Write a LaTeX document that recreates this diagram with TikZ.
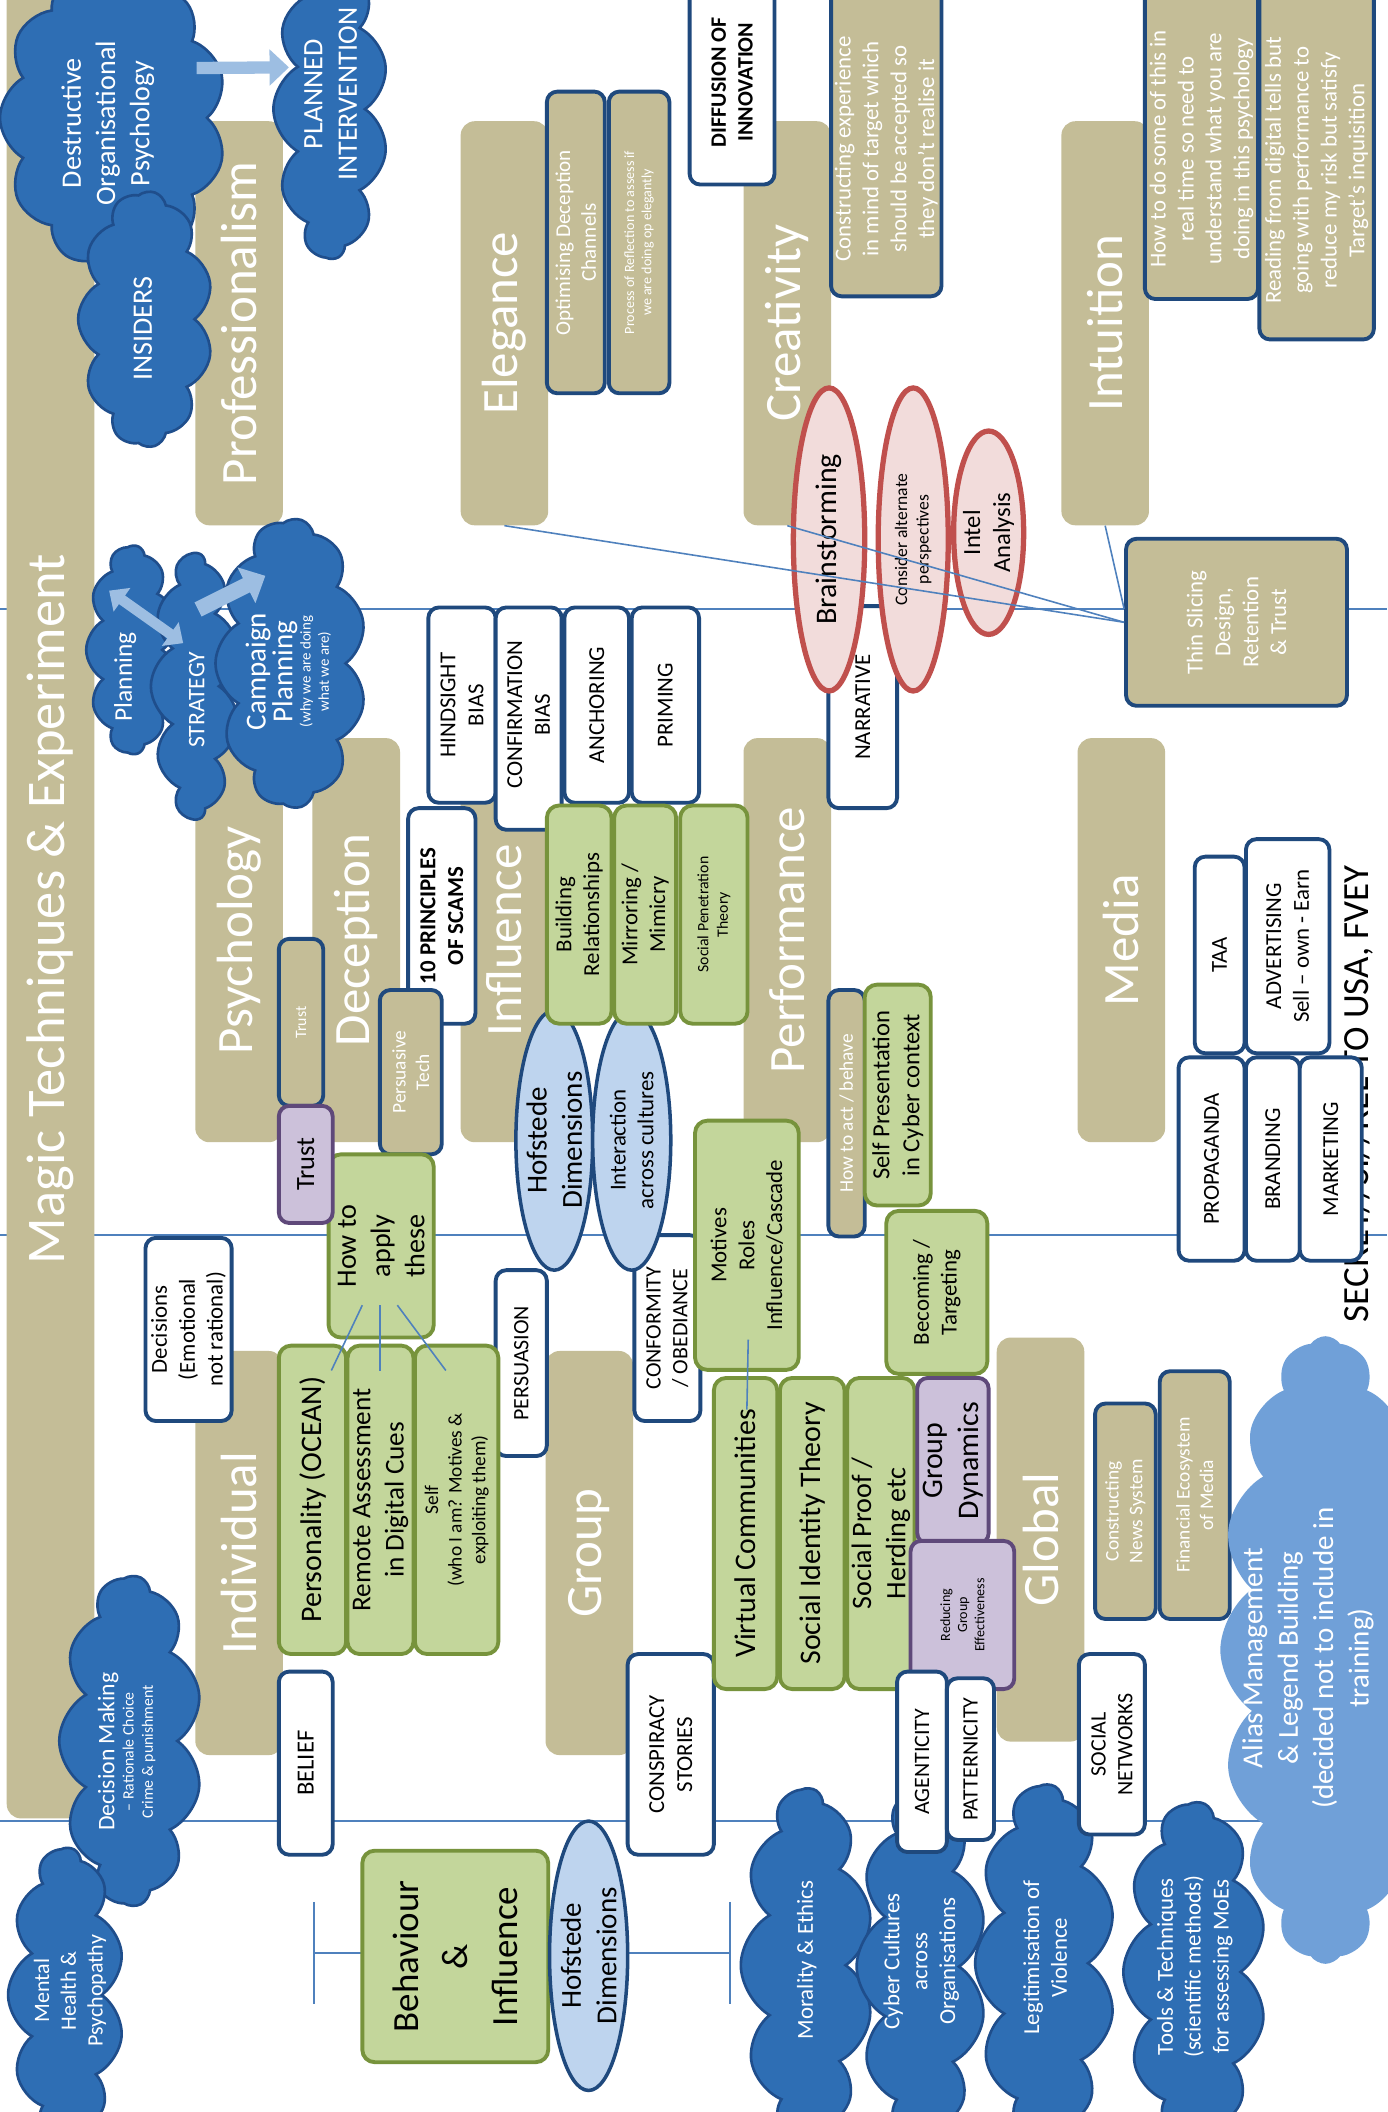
\documentclass[tikz,border=0pt]{standalone}
\usepackage{fontspec}
\setmainfont{Carlito}
\usetikzlibrary{shapes.geometric,shapes.symbols,arrows.meta,calc}
\newdimen\U \U=0.02693cm
\newcommand\fz[1]{\fontsize{#1}{\fpeval{1.22*#1}}\selectfont}
\newcommand\Bx[9]{%
  \node[#1, rotate=90, inner sep=0pt, minimum width={((#6)-(#4))*\U}, minimum height={((#5)-(#3))*\U}] (#2) at ({((#3)+(#5))/2},{((#4)+(#6))/2}) {};
  \node[#7, rotate=90, inner sep=1pt, align=center] (#2-t) at ($(#2.center)+(#8)$) {#9};}
\definecolor{khaki}{RGB}{196,189,151}
\definecolor{navy}{RGB}{31,73,125}
\definecolor{cloudb}{RGB}{46,110,180}
\definecolor{cloudd}{RGB}{31,78,140}
\definecolor{grfill}{RGB}{195,214,155}
\definecolor{grline}{RGB}{119,147,60}
\definecolor{pufill}{RGB}{204,193,218}
\definecolor{puline}{RGB}{95,73,122}
\definecolor{lbfill}{RGB}{190,212,238}
\definecolor{pkfill}{RGB}{242,220,219}
\definecolor{pkline}{RGB}{192,80,77}
\definecolor{aliasb}{RGB}{112,160,216}
\definecolor{arrowb}{RGB}{157,190,226}
\definecolor{connb}{RGB}{79,129,189}
\begin{document}
\begin{tikzpicture}[x=0.02693cm, y=-0.02693cm,
  tanbig/.style={fill=khaki, draw=none, rounded corners=8pt},
  tanb/.style={fill=khaki, draw=navy, line width=2.2pt, rounded corners=6pt},
  wbox/.style={fill=white, draw=navy, line width=2.2pt, rounded corners=6pt},
  gbox/.style={fill=grfill, draw=grline, line width=2.2pt, rounded corners=7pt},
  pbox/.style={fill=pufill, draw=puline, line width=2.2pt, rounded corners=6pt},
  lbell/.style={ellipse, fill=lbfill, draw=navy, line width=2pt},
  pkell/.style={ellipse, fill=pkfill, draw=pkline, line width=3pt},
  dcloud/.style={cloud, cloud puffs=11, cloud puff arc=120, cloud ignores aspect, fill=cloudb, draw=cloudd, line width=1.5pt},
  acloud/.style={cloud, cloud puffs=16, cloud puff arc=110, cloud ignores aspect, fill=aliasb, draw=none},
  wt/.style={text=white},
  bt/.style={text=black},
  conn/.style={draw=connb, line width=0.9pt},
  hline/.style={draw=connb, line width=1.1pt},
  fatarr/.style={draw=arrowb, line width=7pt, -{Triangle[length=11pt,width=20pt]}},
  smarr/.style={draw=arrowb},
]
\fill[white] (0,0) rectangle (1030,1568);
\useasboundingbox (0,0) rectangle (1030,1568);

% horizontal guide lines
\coordinate (hA1) at (0,452); \coordinate (hA2) at (1030,452);
\coordinate (hB1) at (0,917); \coordinate (hB2) at (1030,917);
\coordinate (hC1) at (0,1352); \coordinate (hC2) at (1030,1352);
\draw[hline] (hA1) -- (hA2);
\draw[hline] (hB1) -- (hB2);
\draw[hline] (hC1) -- (hC2);
% legend bracket
\coordinate (lg1) at (233,1450); \coordinate (lg2) at (542,1450);
\coordinate (lg1a) at (233,1412); \coordinate (lg1b) at (233,1488);
\coordinate (lg2a) at (542,1412); \coordinate (lg2b) at (542,1488);
\draw[hline] (lg1) -- (lg2);
\draw[hline] (lg1a) -- (lg1b);
\draw[hline] (lg2a) -- (lg2b);

% classification text (behind boxes)
\node[rotate=90, font=\fz{21}, text=black, inner sep=0pt] (secret) at (1008,812) {SECRET//SI//REL TO USA, FVEY};

% tan category boxes
\Bx{tanbig}{magic}{5}{-12}{70}{1350}{wt,font=\fz{31}}{0,6}{Magic Techniques \& Experiment}
\Bx{tanbig}{prof}{145}{90}{210}{390}{wt,font=\fz{29}}{0,0}{Professionalism}
\Bx{tanbig}{eleg}{342}{90}{407}{390}{wt,font=\fz{29}}{0,0}{Elegance}
\Bx{tanbig}{creat}{552}{90}{617}{390}{wt,font=\fz{29}}{0,0}{Creativity}
\Bx{tanbig}{intu}{788}{90}{853}{390}{wt,font=\fz{29}}{0,0}{Intuition}
\Bx{tanbig}{psych}{145}{548}{210}{848}{wt,font=\fz{29}}{0,0}{Psychology}
\Bx{tanbig}{decep}{232}{548}{297}{848}{wt,font=\fz{29}}{0,0}{Deception}
\Bx{tanbig}{influ}{342}{548}{407}{848}{wt,font=\fz{29}}{0,0}{Influence}
\Bx{tanbig}{perf}{552}{548}{617}{848}{wt,font=\fz{29}}{0,0}{Performance}
\Bx{tanbig}{media}{800}{548}{865}{848}{wt,font=\fz{29}}{0,0}{Media}
\Bx{tanbig}{indiv}{145}{1003}{210}{1303}{wt,font=\fz{29}}{0,0}{Individual}
\Bx{tanbig}{group}{405}{1003}{470}{1303}{wt,font=\fz{29}}{0,0}{Group}
\Bx{tanbig}{global}{740}{993}{805}{1293}{wt,font=\fz{29}}{0,0}{Global}

% top-left clouds
\Bx{dcloud}{destr}{0}{-25}{168}{200}{wt,font=\fz{16}}{-4,4}{Destructive\\Organisational\\Psychology}
\Bx{dcloud}{insiders}{58}{142}{158}{332}{wt,font=\fz{16}}{-2,7}{INSIDERS}
\Bx{dcloud}{planned}{203}{-30}{288}{192}{wt,font=\fz{16}}{0,-11}{PLANNED\\INTERVENTION}
\draw[fatarr] ($(destr.center)+(62,-37)$) -- ($(planned.center)+(-31,-31)$);

% planning clouds
\Bx{dcloud}{planning}{64}{405}{132}{560}{wt,font=\fz{14.5}}{-5,20}{Planning}
\Bx{dcloud}{strategy}{112}{411}{178}{608}{wt,font=\fz{13.5}}{1,10}{STRATEGY}
\Bx{dcloud}{campaign}{160}{385}{272}{600}{wt,font=\fz{8.5}}{-2,6}{{\fz{16.5}Campaign}\\{\fz{16.5}Planning}\\(why we are doing\\what we are)}
\draw[smarr, line width=6pt, {Triangle[length=9pt,width=16pt]}-{Triangle[length=9pt,width=16pt]}] ($(planning.center)+(-17,-44)$) -- ($(strategy.center)+(-9,-32)$);
\draw[smarr, line width=9pt, -{Triangle[length=12pt,width=22pt]}] ($(strategy.center)+(2,-57)$) -- ($(campaign.center)+(-19,-65)$);

% decision / mental clouds
\Bx{dcloud}{decmak}{44}{1170}{150}{1415}{wt,font=\fz{9}}{-3,8}{{\fz{13.5}Decision Making}\\– Rationale Choice\\Crime \& punishment}
\Bx{dcloud}{mental}{6}{1372}{92}{1590}{wt,font=\fz{12.5}}{3,-3}{Mental\\Health \&\\Psychopathy}

% white boxes
\Bx{wbox}{diffusion}{512}{-15}{575}{137}{bt,font=\bfseries\fz{12.5}}{0,0}{DIFFUSION OF\\INNOVATION}
\Bx{wbox}{hind}{318}{451}{368}{596}{bt,font=\fz{13}}{0,0}{HINDSIGHT\\BIAS}
\Bx{wbox}{confirm}{368}{451}{417}{616}{bt,font=\fz{13}}{0,-3}{CONFIRMATION\\BIAS}
\Bx{wbox}{anchor}{419}{451}{467}{596}{bt,font=\fz{13}}{0,0}{ANCHORING}
\Bx{wbox}{priming}{469}{451}{519}{596}{bt,font=\fz{13}}{0,0}{PRIMING}
\Bx{wbox}{narrative}{615}{450}{666}{600}{bt,font=\fz{13}}{0,0}{NARRATIVE}
\Bx{wbox}{scams}{303}{600}{353}{760}{bt,font=\bfseries\fz{13}}{0,0}{10 PRINCIPLES\\OF SCAMS}
\Bx{wbox}{decisions}{108}{919}{172}{1055}{bt,font=\fz{13}}{0,0}{Decisions\\(Emotional\\not rational)}
\Bx{wbox}{belief}{207}{1241}{247}{1377}{bt,font=\fz{14}}{0,0}{BELIEF}
\Bx{wbox}{persuasion}{368}{943}{406}{1081}{bt,font=\fz{12.5}}{0,0}{PERSUASION}
\Bx{wbox}{conformity}{471}{917}{520}{1055}{bt,font=\fz{12.5}}{0,0}{CONFORMITY\\/ OBEDIANCE}
\Bx{wbox}{conspiracy}{466}{1228}{530}{1377}{bt,font=\fz{13}}{0,0}{CONSPIRACY\\STORIES}
\Bx{wbox}{taa}{887}{636}{924}{782}{bt,font=\fz{13}}{0,0}{TAA}
\Bx{wbox}{advert}{925}{623}{987}{782}{bt,font=\fz{13}}{0,0}{ADVERTISING\\Sell – own - Earn}
\Bx{wbox}{propa}{875}{785}{924}{936}{bt,font=\fz{13}}{0,0}{PROPAGANDA}
\Bx{wbox}{brand}{925}{785}{965}{936}{bt,font=\fz{13}}{0,0}{BRANDING}
\Bx{wbox}{market}{965}{785}{1011}{936}{bt,font=\fz{13}}{0,0}{MARKETING}

% tan boxes with border
\Bx{tanb}{optim}{406}{68}{449}{292}{wt,font=\fz{12}}{0,0}{Optimising Deception\\Channels}
\Bx{tanb}{reflect}{452}{68}{497}{292}{wt,font=\fz{8}}{0,0}{Process of Reflection to assess if\\we are doing op elegantly}
\Bx{tanb}{construct}{617}{-15}{699}{220}{wt,font=\fz{13}}{0,8}{Constructing experience\\in mind of target which\\should be accepted so\\they don't realise it}
\Bx{tanb}{howdo}{850}{-15}{934}{222}{wt,font=\fz{13}}{0,7}{How to do some of this in\\real time so need to\\understand what you are\\doing in this psychology}
\Bx{tanb}{reading}{935}{-15}{1020}{252}{wt,font=\fz{13}}{0,8}{Reading from digital tells but\\going with performance to\\reduce my risk but satisfy\\Target's inquisition}
\Bx{tanb}{thin}{836}{400}{1000}{524}{wt,font=\fz{13}}{0,0}{Thin Slicing\\Design,\\Retention\\\& Trust}
\Bx{tanb}{trusttan}{207}{697}{240}{821}{wt,font=\fz{9}}{0,0}{Trust}
\Bx{tanb}{persuasive}{282}{735}{328}{857}{wt,font=\fz{11}}{0,0}{Persuasive\\Tech}
\Bx{tanb}{howact}{615}{735}{642}{918}{wt,font=\fz{11}}{0,0}{How to act / behave}
\Bx{tanb}{news}{813}{1042}{858}{1202}{wt,font=\fz{11}}{0,0}{Constructing\\News System}
\Bx{tanb}{financial}{861}{1018}{913}{1202}{wt,font=\fz{11}}{0,0}{Financial Ecosystem\\of Media}

% light blue ellipses
\Bx{lbell}{hof1}{383}{750}{440}{943}{bt,font=\fz{16.5}}{0,0}{Hofstede\\Dimensions}
\Bx{lbell}{inter}{440}{750}{498}{943}{bt,font=\fz{13}}{0,0}{Interaction\\across cultures}

% green boxes
\Bx{gbox}{howto}{244}{857}{322}{993}{bt,font=\fz{16}}{0,0}{How to\\apply\\these}
\Bx{gbox}{person}{207}{999}{257}{1228}{bt,font=\fz{17}}{0,0}{Personality (OCEAN)}
\Bx{gbox}{remote}{258}{999}{307}{1228}{bt,font=\fz{15.5}}{0,0}{Remote Assessment\\in Digital Cues}
\Bx{gbox}{self}{308}{999}{370}{1228}{bt,font=\fz{11}}{0,0}{Self\\(who I am? Motives \&\\exploiting them)}
\Bx{gbox}{build}{406}{598}{454}{760}{bt,font=\fz{13}}{0,0}{Building\\Relationships}
\Bx{gbox}{mirror}{456}{598}{502}{760}{bt,font=\fz{13}}{0,0}{Mirroring /\\Mimicry}
\Bx{gbox}{socpen}{505}{598}{555}{760}{bt,font=\fz{9}}{0,0}{Social Penetration\\Theory}
\Bx{gbox}{selfpres}{642}{731}{691}{895}{bt,font=\fz{14}}{0,0}{Self Presentation\\in Cyber context}
\Bx{gbox}{motives}{516}{832}{593}{1017}{bt,font=\fz{13}}{0,0}{Motives\\Roles\\Influence/Cascade}
\Bx{gbox}{becoming}{658}{899}{733}{1020}{bt,font=\fz{13}}{0,0}{Becoming /\\Targeting}
\Bx{gbox}{virtual}{530}{1023}{577}{1254}{bt,font=\fz{17}}{0,0}{Virtual Communities}
\Bx{gbox}{socid}{579}{1023}{627}{1254}{bt,font=\fz{17}}{0,0}{Social Identity Theory}
\Bx{gbox}{socproof}{629}{1023}{679}{1254}{bt,font=\fz{16}}{0,0}{Social Proof /\\Herding etc}

% purple boxes
\Bx{pbox}{trustp}{207}{821}{247}{908}{bt,font=\fz{15}}{0,0}{Trust}
\Bx{pbox}{gdyn}{681}{1023}{734}{1146}{bt,font=\fz{17}}{0,0}{Group\\Dynamics}
\Bx{pbox}{reduce}{676}{1144}{753}{1254}{bt,font=\fz{8}}{0,0}{Reducing\\Group\\Effectiveness}

% behaviour legend
\Bx{gbox}{behav}{269}{1374}{407}{1531}{bt,font=\fontsize{21}{28}\selectfont}{0,0}{Behaviour\\\&\\Influence}
\Bx{lbell}{hof2}{408}{1352}{466}{1552}{bt,font=\fz{16.5}}{0,0}{Hofstede\\Dimensions}

% pink ellipses
\Bx{pkell}{brain}{589}{288}{642}{513}{bt,font=\fz{17}}{0,0}{Brainstorming}
\Bx{pkell}{consider}{652}{288}{704}{513}{bt,font=\fz{10}}{0,0}{Consider alternate\\perspectives}
\Bx{pkell}{intel}{708}{320}{760}{471}{bt,font=\fz{14}}{0,0}{Intel\\Analysis}

% bottom clouds
\Bx{dcloud}{moral}{550}{1328}{648}{1590}{wt,font=\fz{13}}{0,-4}{Morality \& Ethics}
\Bx{dcloud}{cyber}{636}{1330}{732}{1590}{wt,font=\fz{13}}{0,-4}{Cyber Cultures\\across\\Organisations}
\Bx{wbox}{agent}{666}{1241}{703}{1375}{bt,font=\fz{12.5}}{0,0}{AGENTICITY}
\Bx{wbox}{pattern}{703}{1246}{738}{1366}{bt,font=\fz{12.5}}{0,0}{PATTERNICITY}
\Bx{dcloud}{legit}{724}{1325}{828}{1590}{wt,font=\fz{13}}{0,-4}{Legitimisation of\\Violence}
\Bx{dcloud}{tools}{834}{1338}{940}{1590}{wt,font=\fz{13}}{0,-4}{Tools \& Techniques\\(scientific methods)\\for assessing MoEs}
\Bx{wbox}{social}{801}{1228}{850}{1362}{bt,font=\fz{12.5}}{0,0}{SOCIAL\\NETWORKS}
\Bx{acloud}{alias}{906}{992}{1062}{1458}{wt,font=\fz{16.5}}{-13,6}{Alias Management\\\& Legend Building\\(decided not to include in\\training)}

% connectors
\draw[conn] (eleg.west) -- (thin.north);
\draw[conn] (creat.west) -- (thin.north);
\draw[conn] (intu.west) -- ($(thin.north)+(0,-10)$);
\draw[conn] ($(howto.center)+(-14,44)$) -- ($(person.center)+(14,-96)$);
\draw[conn] ($(howto.center)+(-1,44)$) -- ($(remote.center)+(-0.5,-96)$);
\draw[conn] ($(howto.center)+(12,44)$) -- ($(self.center)+(-8,-96)$);
\draw[conn] ($(motives.center)+(1,70)$) -- ($(virtual.center)+(1,-92)$);
\end{tikzpicture}
\end{document}
